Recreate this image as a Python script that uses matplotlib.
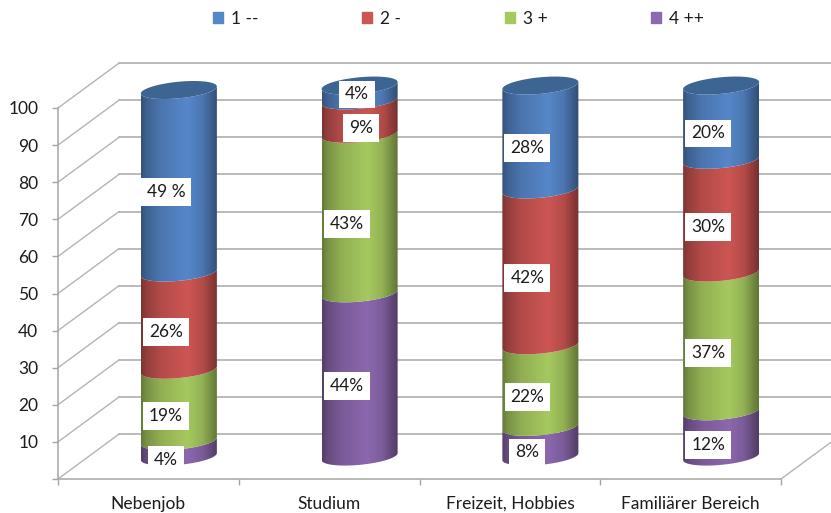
import numpy as np
import matplotlib
matplotlib.use('Agg')
import matplotlib.pyplot as plt
from matplotlib.patches import Patch, Polygon

# Categories and values, stacked from bottom to top
categorias = ['Nebenjob', 'Studium', 'Freizeit, Hobbies', 'Familiärer Bereich']
valores_4 = [4.2, 44, 8, 12.2]
valores_3 = [19.2, 43, 22, 37.4]
valores_2 = [26.2, 9, 42, 30.4]
valores_1 = [49.2, 4, 28, 20]
rotulos_4 = ['4%', '44%', '8%', '12%']
rotulos_3 = ['19%', '43%', '22%', '37%']
rotulos_2 = ['26%', '9%', '42%', '30%']
rotulos_1 = ['49 %', '4%', '28%', '20%']
nomes = ['1 --', '2 -', '3 +', '4 ++']
ticks_y = [0, 10, 20, 30, 40, 50, 60, 70, 80, 90, 100]
ticks_y_txt = ['', '10', '20', '30', '40', '50', '60', '70', '80', '90', '100']

# Colours, from the bottom series up
cores = ['#8c68ae', '#a6c95f', '#cd5653', '#5687c9']
cor_tampa = '#3d6593'
cor_grade = '#b4b4b4'
cor_texto = '#1c1c1c'

plt.rcParams['font.family'] = ['Lato', 'DejaVu Sans']

fig = plt.figure(figsize=(8.31, 5.13), dpi=100)
ax = fig.add_axes([58 / 831, 34 / 513, 723 / 831, 371 / 513])
ax.set_xlim(0, 4)
ax.set_ylim(0, 100)

# Fake 3D depth, in axis units
prof_x = 61 / 180.75
prof_y = 12.1
raio = 38 / 180.75
elipse_b = 8.3 / 3.71
elipse_inc = 3.5 / 3.71

# Walls and floor
for v in ticks_y:
    ax.plot([prof_x, 4 + prof_x], [v + prof_y, v + prof_y], color=cor_grade, lw=1.3, zorder=1, clip_on=False)
    ax.plot([0, prof_x], [v, v + prof_y], color=cor_grade, lw=1.0, zorder=1, clip_on=False)
ax.plot([4, 4 + prof_x], [0, prof_y], color=cor_grade, lw=1.0, zorder=1, clip_on=False)


def borda(cx, v, t):
    x = cx + raio * np.cos(t)
    y = v + prof_y / 2 + elipse_b * np.sin(t) + elipse_inc * np.cos(t)
    return x, y


def gradiente(cor):
    rgb = np.array(matplotlib.colors.to_rgb(cor))
    pos = np.linspace(0, 1, 200)
    luz = np.interp(pos, [0, 0.07, 0.25, 0.6, 0.8, 0.93, 1], [0.6, 0.72, 0.87, 1, 0.88, 0.68, 0.58])
    return (luz[:, None] * rgb)[None, :, :]


t_frente = np.linspace(np.pi, 2 * np.pi, 80)
t_volta = np.linspace(0, 2 * np.pi, 160)

series = [valores_4, valores_3, valores_2, valores_1]
rotulos = [rotulos_4, rotulos_3, rotulos_2, rotulos_1]

for i in range(len(categorias)):
    cx = i + 0.5 + prof_x / 2
    base = 0
    for s in range(4):
        v = series[s][i]
        topo = base + v
        x0, y0 = borda(cx, base, t_frente)
        x1, y1 = borda(cx, topo, t_frente[::-1])
        forma = Polygon(np.column_stack([np.r_[x0, x1], np.r_[y0, y1]]), closed=True,
                        transform=ax.transData, fc='none', ec='none', clip_on=False)
        ax.add_patch(forma)
        img = ax.imshow(gradiente(cores[s]), extent=[cx - raio, cx + raio, base - 5, topo + 12],
                        aspect='auto', zorder=3, interpolation='bilinear')
        img.set_clip_path(forma)
        # the axes box would cut the part above 100
        img.set_clip_box(fig.bbox)

        # Data label
        dx, dy = -13 / 180.75, -2.9
        if rotulos[s][i] == '4%' and s == 3:
            dx, dy = -3 / 180.75, -0.4
        if rotulos[s][i] == '9%':
            dx = 1 / 180.75
        ax.text(cx + dx, base + v / 2 + prof_y / 2 + dy, rotulos[s][i], ha='center', va='center',
                fontsize=12.5, color=cor_texto, zorder=5,
                bbox=dict(fc='white', ec='none', boxstyle='square,pad=0.34'))
        base = topo
    # Top of the cylinder
    xt, yt = borda(cx, base, t_volta)
    ax.fill(xt, yt, color=cor_tampa, lw=0, zorder=4, clip_on=False)

ax.set_xlim(0, 4)
ax.set_ylim(0, 100)

# Axes
ax.patch.set_visible(False)
for lado in ['top', 'right']:
    ax.spines[lado].set_visible(False)
for lado in ['left', 'bottom']:
    ax.spines[lado].set_color('#a6a6a6')
    ax.spines[lado].set_linewidth(1.1)
ax.set_yticks(ticks_y)
ax.set_yticklabels(ticks_y_txt)
ax.tick_params(axis='y', length=4.3, width=1, color='#a6a6a6', labelsize=12.5, labelcolor=cor_texto, pad=10)
ax.set_xticks(range(5))
ax.set_xticklabels([])
ax.set_xticks([0.5, 1.5, 2.5, 3.5], categorias, minor=True)
ax.tick_params(axis='x', which='major', length=4.3, width=1, color='#a6a6a6')
ax.tick_params(axis='x', which='minor', length=0, labelsize=12.5, labelcolor=cor_texto, pad=12)

# Legend
alcas = [Patch(color=cores[3 - k], label=nomes[k]) for k in range(4)]
fig.legend(handles=alcas, ncols=4, loc='center left', bbox_to_anchor=(213 / 831, 1 - 19 / 513), frameon=False,
           fontsize=12.5, handlelength=0.6, handleheight=0.6, handletextpad=0.45, columnspacing=5.95,
           labelcolor=cor_texto, borderpad=0, borderaxespad=0)

fig.savefig('out.png', dpi=100)
